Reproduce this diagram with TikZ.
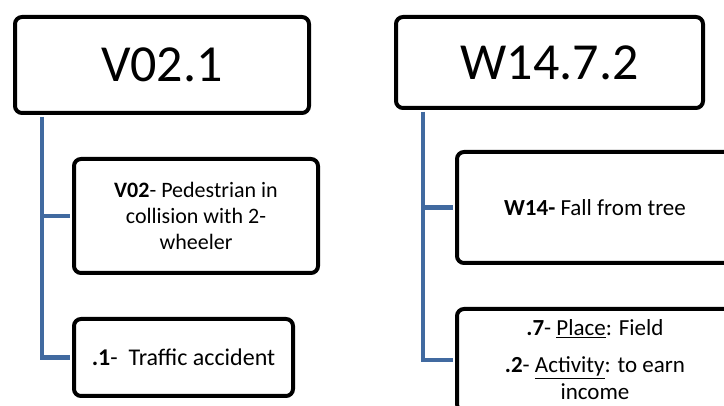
\documentclass[tikz,border=0pt]{standalone}
\usepackage{fontspec}
\setmainfont{Carlito}
\definecolor{linkblue}{RGB}{65,106,160}

\begin{document}
\begin{tikzpicture}[x=1pt, y=-1pt]
    % Define styles
    \tikzstyle{code} = [rectangle, rounded corners=7pt, line width=4pt, draw=black, fill=white, text centered, font=\fontsize{52}{60}\selectfont]
    \tikzstyle{part} = [rectangle, rounded corners=7pt, line width=4pt, draw=black, fill=white, align=center, font=\fontsize{22}{26}\selectfont]
    \tikzstyle{link} = [line width=4.5pt, draw=linkblue, shorten <=2pt, shorten >=2pt]

    \clip (0,0) rectangle (724,406);

    % Nodes
    \node [code, minimum width=294pt, minimum height=96pt] (v021) at (162,65) {V02.1};
    \node [part, minimum width=244pt, minimum height=114pt] (v02) at (196,216) {\textbf{V02}- Pedestrian in\\collision with 2-\\wheeler};
    \node [part, minimum width=219pt, minimum height=77pt, font=\fontsize{24}{28}\selectfont] (accident) at (183.5,357.5) {\textbf{.1}-~ Traffic accident};

    \node [code, minimum width=307pt, minimum height=91pt] (w1472) at (549.5,62.5) {W14.7.2};
    \node [part, minimum width=276pt, minimum height=111pt, font=\fontsize{23}{27}\selectfont] (w14) at (595,207.5) {\textbf{W14-} Fall from tree};
    \node [part, minimum width=276pt, minimum height=102pt, font=\fontsize{23}{27}\selectfont] (place) at (595,360) {\textbf{.7}- \underline{Place}: Field\\[10pt]\textbf{.2}- \underline{Activity}: to earn\\income};

    % Lines
    \draw [link] ([xshift=29pt]v021.south west) |- (v02.west);
    \draw [link] ([xshift=29pt]v021.south west) |- (accident.west);
    \draw [link] ([xshift=29pt]w1472.south west) |- (w14.west);
    \draw [link] ([xshift=29pt]w1472.south west) |- (place.west);
\end{tikzpicture}
\end{document}
